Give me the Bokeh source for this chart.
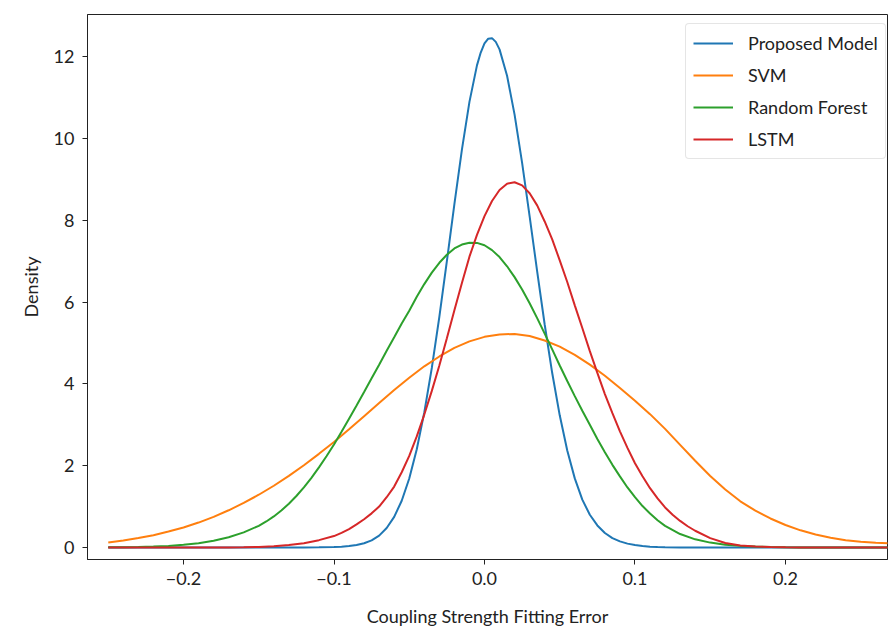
from bokeh.plotting import figure
from bokeh.models import Range1d, FixedTicker, Legend, LegendItem
from bokeh.embed import file_html
from bokeh.resources import INLINE

# ---- data ----
series_names = ["Proposed Model", "SVM", "Random Forest", "LSTM"]
series_colors = ["#1f77b4", "#ff7f0e", "#2ca02c", "#d62728"]

# Proposed Model
proposed_x = [-0.25, -0.20, -0.15, -0.13, -0.12, -0.11,
              -0.100, -0.095, -0.090, -0.085, -0.080, -0.075, -0.070, -0.065,
              -0.060, -0.055, -0.050, -0.045, -0.040, -0.035, -0.030, -0.025,
              -0.020, -0.015, -0.010, -0.005, -0.0025, 0.000, 0.0025, 0.005,
              0.0075, 0.010, 0.015,
              0.020, 0.025, 0.030, 0.035, 0.040, 0.045, 0.050, 0.055,
              0.060, 0.065, 0.070, 0.075, 0.080, 0.085, 0.090, 0.095,
              0.100, 0.105, 0.110, 0.115, 0.120,
              0.13, 0.15, 0.20, 0.27]
proposed_y = [0.0, 0.0, 0.0, 0.0, 0.001, 0.004,
              0.010, 0.020, 0.035, 0.062, 0.105, 0.175, 0.29, 0.476,
              0.75, 1.144, 1.686, 2.401, 3.303, 4.390, 5.638, 6.999,
              8.393, 9.727, 10.893, 11.787, 12.10, 12.324, 12.44, 12.452,
              12.36, 12.177, 11.534,
              10.582, 9.405, 8.096, 6.751, 5.452, 4.265, 3.232, 2.372,
              1.69, 1.17, 0.80, 0.54, 0.355, 0.23, 0.15, 0.095,
              0.06, 0.036, 0.021, 0.012, 0.006,
              0.002, 0.0, 0.0, 0.0]

# SVM
svm_x = [-0.25, -0.24, -0.23, -0.22, -0.21, -0.20, -0.19, -0.18, -0.17, -0.16,
         -0.15, -0.14, -0.13, -0.12, -0.11, -0.10, -0.09, -0.08, -0.07, -0.06,
         -0.05, -0.04, -0.03, -0.02, -0.01, 0.00, 0.01, 0.02, 0.03, 0.04,
         0.05, 0.06, 0.07, 0.08, 0.09, 0.10, 0.11, 0.12, 0.13, 0.14,
         0.15, 0.16, 0.17, 0.18, 0.19, 0.20, 0.21, 0.22, 0.23, 0.24,
         0.25, 0.26, 0.27]
svm_y = [0.12, 0.17, 0.23, 0.30, 0.39, 0.49, 0.61, 0.75, 0.91, 1.09,
         1.29, 1.51, 1.75, 2.01, 2.29, 2.58, 2.89, 3.21, 3.53, 3.85,
         4.15, 4.43, 4.67, 4.88, 5.04, 5.15, 5.21, 5.22, 5.17, 5.06,
         4.91, 4.71, 4.47, 4.20, 3.90, 3.59, 3.26, 2.90, 2.51, 2.12,
         1.75, 1.42, 1.13, 0.90, 0.71, 0.55, 0.42, 0.32, 0.24, 0.18,
         0.14, 0.115, 0.10]

# Random Forest
rf_x = [-0.25, -0.24, -0.23, -0.22, -0.21, -0.20, -0.19, -0.18, -0.17, -0.16,
        -0.15, -0.145, -0.14, -0.135, -0.13, -0.125, -0.12, -0.115, -0.11, -0.105,
        -0.10, -0.095, -0.09, -0.085, -0.08, -0.075, -0.07, -0.065, -0.06, -0.055,
        -0.05, -0.045, -0.04, -0.035, -0.03, -0.025, -0.02, -0.015, -0.01, -0.005,
        0.00, 0.005, 0.01, 0.015, 0.02, 0.025, 0.03, 0.035, 0.04, 0.045,
        0.05, 0.055, 0.06, 0.065, 0.07, 0.075, 0.08, 0.085, 0.09, 0.095,
        0.10, 0.105, 0.11, 0.115, 0.12, 0.13, 0.14, 0.15, 0.16, 0.17,
        0.18, 0.19, 0.20, 0.21, 0.22, 0.23, 0.27]
rf_y = [0.004, 0.008, 0.014, 0.024, 0.040, 0.067, 0.107, 0.165, 0.25, 0.37,
        0.53, 0.637, 0.76, 0.905, 1.07, 1.259, 1.47, 1.704, 1.96, 2.230,
        2.52, 2.828, 3.15, 3.472, 3.80, 4.136, 4.47, 4.811, 5.14, 5.475,
        5.79, 6.128, 6.44, 6.719, 6.96, 7.158, 7.31, 7.406, 7.45, 7.447,
        7.39, 7.270, 7.10, 6.875, 6.61, 6.305, 5.97, 5.608, 5.23, 4.842,
        4.45, 4.072, 3.70, 3.344, 3.00, 2.653, 2.33, 2.021, 1.74, 1.468,
        1.23, 1.014, 0.83, 0.666, 0.53, 0.33, 0.20, 0.12, 0.07, 0.04,
        0.022, 0.011, 0.006, 0.003, 0.001, 0.0, 0.0]

# LSTM
lstm_x = [-0.25, -0.19, -0.18, -0.17, -0.16, -0.15, -0.14, -0.13, -0.12, -0.11,
          -0.10, -0.095, -0.09, -0.085, -0.08, -0.075, -0.07, -0.065, -0.06, -0.055,
          -0.05, -0.045, -0.04, -0.035, -0.03, -0.025, -0.02, -0.015, -0.01, -0.005,
          0.00, 0.005, 0.01, 0.015, 0.02, 0.025, 0.03, 0.035, 0.04, 0.045,
          0.05, 0.055, 0.06, 0.065, 0.07, 0.075, 0.08, 0.085, 0.09, 0.095,
          0.10, 0.105, 0.11, 0.115, 0.12, 0.125, 0.13, 0.135, 0.14, 0.15,
          0.16, 0.17, 0.18, 0.19, 0.20, 0.21, 0.22, 0.23, 0.27]
lstm_y = [0.0, 0.0, 0.001, 0.003, 0.007, 0.015, 0.03, 0.06, 0.105, 0.18,
          0.28, 0.357, 0.45, 0.565, 0.69, 0.835, 1.00, 1.229, 1.49, 1.839,
          2.24, 2.716, 3.25, 3.829, 4.45, 5.115, 5.80, 6.465, 7.11, 7.641,
          8.10, 8.471, 8.74, 8.895, 8.93, 8.854, 8.66, 8.364, 7.97, 7.531,
          7.02, 6.490, 5.92, 5.367, 4.80, 4.271, 3.75, 3.285, 2.84, 2.435,
          2.06, 1.740, 1.45, 1.200, 0.98, 0.803, 0.65, 0.520, 0.41, 0.23,
          0.11, 0.05, 0.025, 0.011, 0.005, 0.002, 0.001, 0.0, 0.0]

x_ticks = [-0.2, -0.1, 0.0, 0.1, 0.2]
x_tick_labels = ["\u22120.2", "\u22120.1", "0.0", "0.1", "0.2"]
y_ticks = [0, 2, 4, 6, 8, 10, 12]

x_label = "Coupling Strength Fitting Error"
y_label = "Density"

FONT = "Lato"
TXT = "#222222"
FS = "18px"

p = figure(width=888, height=630, output_backend="svg", toolbar_location=None,
           x_range=Range1d(-0.2638, 0.2678), y_range=Range1d(-0.293, 13.03),
           min_border_left=87, min_border_right=1, min_border_top=14,
           min_border_bottom=71)

p.background_fill_color = "white"
p.border_fill_color = "white"
p.outline_line_color = "#222222"
p.outline_line_width = 1
p.xgrid.visible = False
p.ygrid.visible = False

xs_list = [proposed_x, svm_x, rf_x, lstm_x]
ys_list = [proposed_y, svm_y, rf_y, lstm_y]
renderers = []
for xs, ys, c in zip(xs_list, ys_list, series_colors):
    r = p.line(xs, ys, line_color=c, line_width=2)
    renderers.append(r)

p.xaxis.ticker = FixedTicker(ticks=x_ticks)
p.xaxis.major_label_overrides = {t: l for t, l in zip(x_ticks, x_tick_labels)}
p.yaxis.ticker = FixedTicker(ticks=y_ticks)

for ax in (p.xaxis, p.yaxis):
    ax.axis_line_color = "#222222"
    ax.major_tick_line_color = "#222222"
    ax.major_tick_out = 5
    ax.major_tick_in = 0
    ax.minor_tick_line_color = None
    ax.major_label_text_font = FONT
    ax.major_label_text_font_size = FS
    ax.major_label_text_color = TXT
    ax.axis_label_text_font = FONT
    ax.axis_label_text_font_size = FS
    ax.axis_label_text_font_style = "normal"
    ax.axis_label_text_color = TXT

p.xaxis.axis_label = x_label
p.yaxis.axis_label = y_label
p.xaxis.major_label_standoff = 7
p.xaxis.axis_label_standoff = 17
p.yaxis.major_label_standoff = 8
p.yaxis.axis_label_standoff = 9

legend = Legend(items=[LegendItem(label=n, renderers=[r])
                       for n, r in zip(series_names, renderers)],
                location=(598, 400))
legend.label_text_font = FONT
legend.label_text_font_size = FS
legend.label_text_color = TXT
legend.glyph_width = 40
legend.glyph_height = 24
legend.label_height = 24
legend.label_standoff = 15
legend.spacing = 8
legend.padding = 7
legend.margin = 0
legend.border_line_color = "#cccccc"
legend.border_line_width = 1
legend.background_fill_color = "white"
legend.background_fill_alpha = 0.8
try:
    legend.border_radius = 4
except Exception:
    pass
p.add_layout(legend)

open("out.html", "w").write(file_html(p, INLINE))
